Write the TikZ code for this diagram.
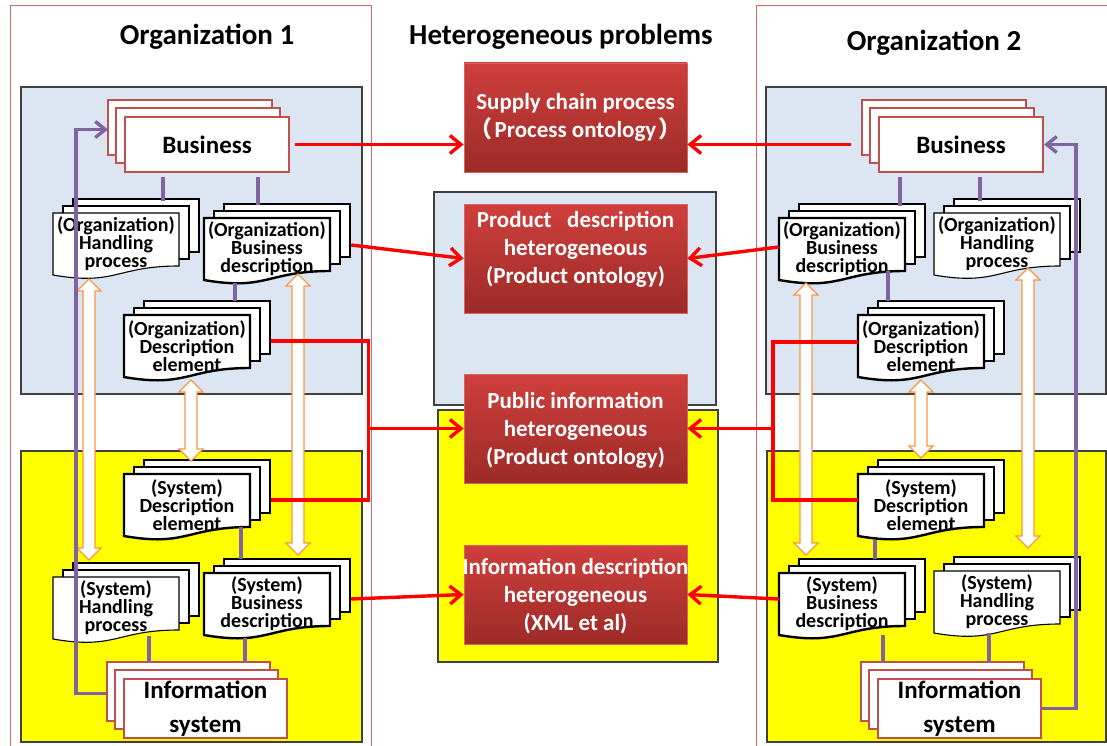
\documentclass[tikz,border=0pt]{standalone}
\usepackage{fontspec}
\setmainfont{Carlito}
\newfontfamily\cjkfont{Noto Sans CJK SC}
\usetikzlibrary{arrows.meta,calc}
\definecolor{frameR}{RGB}{220,100,100}
\definecolor{blueF}{RGB}{220,230,242}
\definecolor{boxEdge}{RGB}{64,64,64}
\definecolor{yel}{RGB}{255,255,0}
\definecolor{busR}{RGB}{192,80,77}
\definecolor{purp}{RGB}{128,100,162}
\definecolor{orng}{RGB}{247,150,70}
\definecolor{rtop}{RGB}{207,63,60}
\definecolor{rbot}{RGB}{156,43,40}
\definecolor{redge}{RGB}{214,100,98}
\tikzset{
  titletext/.style={font=\fontsize{29}{34}\selectfont\bfseries, inner sep=0pt},
  orgframe/.style={draw=frameR, line width=1pt},
  area/.style={draw=boxEdge, line width=1.2pt},
  docthin/.style={draw=black, line width=1.1pt, fill=white},
  docthick/.style={draw=black, line width=2.4pt, fill=white},
  doctext/.style={font=\fontsize{20}{18}\selectfont\bfseries, align=center, minimum width=126pt, minimum height=62pt, inner sep=0pt},
  busedge/.style={draw=busR, line width=2pt, fill=white},
  bustext/.style={font=\fontsize{25}{34}\selectfont\bfseries, align=center, inner sep=0pt},
  probbox/.style={draw=redge, line width=0.8pt, top color=rtop, bottom color=rbot, minimum width=223pt, inner sep=0pt},
  probtext/.style={font=\fontsize{23}{28}\selectfont\bfseries, text=white, align=center, inner sep=0pt},
  redline/.style={draw=red, line width=3.4pt},
  redarrow/.style={redline, -{Straight Barb[length=11pt,width=18pt]}},
  purpline/.style={draw=purp, line width=3.4pt},
  purparrow/.style={purpline, -{Straight Barb[length=10pt,width=16pt]}},
  hollow/.style={draw=orng, fill=white, line width=1.3pt, line join=miter},
}
% multi-document stack: name, x, y (front top-left), style, text
\newcommand\mdoc[5]{%
  \path[#4] (#2+20,#3-14) rectangle ++(126,53);
  \path[#4] (#2+10,#3-7) rectangle ++(126,53);
  \path[#4] (#2,#3) -- (#2+126,#3) -- (#2+126,#3+53) .. controls (#2+63,#3+53) and (#2+63,#3+73) .. (#2,#3+62) -- cycle;
  \node[doctext] (#1) at (#2+63,#3+31) {#5};
}
% stacked box: name, x, y (front top-left), w, h, text
\newcommand\sbx[6]{%
  \path[busedge] (#2-16,#3-16) rectangle ++(#4,#5);
  \path[busedge] (#2-8,#3-8) rectangle ++(#4,#5);
  \node[busedge, bustext, minimum width=#4pt, minimum height=#5pt, anchor=north west] (#1) at (#2,#3) {#6};
}
% hollow double arrow: x, ytop, ybottom
\newcommand\harrow[3]{%
  \path[hollow] (#1,#2) -- (#1+12,#2+12) -- (#1+6,#2+12) -- (#1+6,#3-12) -- (#1+12,#3-12) -- (#1,#3)
    -- (#1-12,#3-12) -- (#1-6,#3-12) -- (#1-6,#2+12) -- (#1-12,#2+12) -- cycle;
}
\begin{document}
\begin{tikzpicture}[x=1pt,y=-1pt]
\useasboundingbox (0,0) rectangle (1107,746);
\fill[white] (0,0) rectangle (1107,746);

% organisation frames
\draw[orgframe] (10,752) -- (10,6) -- (371,6) -- (371,752);
\draw[orgframe] (756,752) -- (756,6) -- (1112,6);

% titles
\node[titletext] (t1) at (207,37) {Organization 1};
\node[titletext] (t2) at (561,37) {Heterogeneous problems};
\node[titletext] (t3) at (934,43) {Organization 2};

% areas
\filldraw[area, fill=blueF] (21,87) rectangle (362,394);
\filldraw[area, fill=yel] (21,451) rectangle (362,742);
\filldraw[area, fill=blueF] (434,192) rectangle (716,405);
\filldraw[area, fill=yel] (438,410) rectangle (718,662);
\filldraw[area, fill=blueF] (766,87) rectangle (1106,394);
\filldraw[area, fill=yel] (767,451) rectangle (1106,742);

% problem boxes
\node[probbox, minimum height=109pt] (sc) at (575.5,117.5) {};
\node[probbox, minimum height=109pt] (pd) at (575.5,258.5) {};
\node[probbox, minimum height=109pt] (pi) at (575.5,428.5) {};
\node[probbox, minimum height=99pt] (id) at (575.5,594.5) {};
\node[probtext] (sct) at (sc.center) {Supply chain process\\{\cjkfont （}\hspace{2pt}Process ontology\hspace{2pt}{\cjkfont ）}};
\node[probtext] (pdt) at ([yshift=9]pd.center) {Product\ \ \ description\\heterogeneous\\(Product ontology)};
\node[probtext] (pit) at ([yshift=-2]pi.center) {Public information\\heterogeneous\\(Product ontology)};
\node[probtext] (idt) at ([yshift=-1.5]id.center) {Information description\\heterogeneous\\(XML et al)};

% organisation 1
\sbx{b1}{124}{116}{164}{55}{Business}
\mdoc{ohp1}{53}{213}{docthin}{(Organization)\\Handling\\process}
\mdoc{obd1}{204}{218}{docthick}{(Organization)\\Business\\description}
\mdoc{ode1}{124}{315}{docthick}{(Organization)\\Description\\element}
\mdoc{sde1}{124}{474}{docthick}{(System)\\Description\\element}
\mdoc{shp1}{53}{577}{docthin}{(System)\\Handling\\process}
\mdoc{sbd1}{204}{573}{docthick}{(System)\\Business\\description}
\sbx{is1}{123}{678}{163}{59}{Information\\system}

% organisation 2
\sbx{b2}{878}{116}{164}{55}{Business}
\mdoc{obd2}{779}{218}{docthick}{(Organization)\\Business\\description}
\mdoc{ohp2}{934}{213}{docthin}{(Organization)\\Handling\\process}
\mdoc{ode2}{858}{315}{docthick}{(Organization)\\Description\\element}
\mdoc{sde2}{858}{474}{docthick}{(System)\\Description\\element}
\mdoc{sbd2}{779}{573}{docthick}{(System)\\Business\\description}
\mdoc{shp2}{934}{571}{docthin}{(System)\\Handling\\process}
\sbx{is2}{877}{678}{163}{59}{Information\\system}

% hollow double arrows
\harrow{89}{279}{560}
\harrow{191}{380}{461}
\harrow{298}{274}{555}
\harrow{806}{283}{555}
\harrow{921}{380}{458}
\harrow{1028}{268}{548}

% red connectors, organisation 1
\draw[redarrow] ([xshift=5]b1.east) -- (b1.east -| sc.west);
\draw[redarrow] ([xshift=21,yshift=4]obd1.east) -- (pd.west);
\draw[redline] ([xshift=21,yshift=5]ode1.east) -- ++(97,0) coordinate (j1) |- ([xshift=21,yshift=5]sde1.east);
\draw[redarrow] (j1 |- pi.west) -- (pi.west);
\draw[redarrow] ([xshift=21,yshift=5]sbd1.east) -- (id.west);

% red connectors, organisation 2
\draw[redarrow] ([xshift=-27]b2.west) -- (b2.west -| sc.east);
\draw[redarrow] ([yshift=2]obd2.west) -- (pd.east);
\draw[redline] ([yshift=4]ode2.west) -- ++(-85,0) coordinate (j2) |- ([yshift=5]sde2.west);
\draw[redarrow] (j2 |- pi.east) -- (pi.east);
\draw[redarrow] ([yshift=5]sbd2.west) -- (id.east);

% purple links, organisation 1
\draw[purpline] ([xshift=-44,yshift=-4]b1.south) -- ++(0,24);
\draw[purpline] ([xshift=51,yshift=-4]b1.south) -- ++(0,28);
\draw[purpline] ([xshift=-32,yshift=-3]obd1.south) -- ++(0,18);
\draw[purpline] ([xshift=54,yshift=9]sde1.south) -- ++(0,32);
\draw[purpline] ([xshift=33,yshift=3]shp1.south) -- ++(0,27);
\draw[purpline] ([xshift=-22,yshift=-3]sbd1.south) -- ++(0,25);
\draw[purparrow] ([xshift=-17,yshift=15]is1.west) -- ++(-30,0) |- ([xshift=-16,yshift=15]b1.west);

% purple links, organisation 2
\draw[purpline] ([xshift=-61,yshift=-4]b2.south) -- ++(0,29);
\draw[purpline] ([xshift=19,yshift=-4]b2.south) -- ++(0,24);
\draw[purpline] ([xshift=46,yshift=9]obd2.south) -- ++(0,30);
\draw[purpline] ([xshift=-46,yshift=-4]sde2.south) -- ++(0,19);
\draw[purpline] ([xshift=41]sbd2.south) -- ++(0,28);
\draw[purpline] ([xshift=-8]shp2.south) -- ++(0,30);
\draw[purparrow] (is2.east) -- ++(34,0) |- (b2.east);
\end{tikzpicture}
\end{document}
